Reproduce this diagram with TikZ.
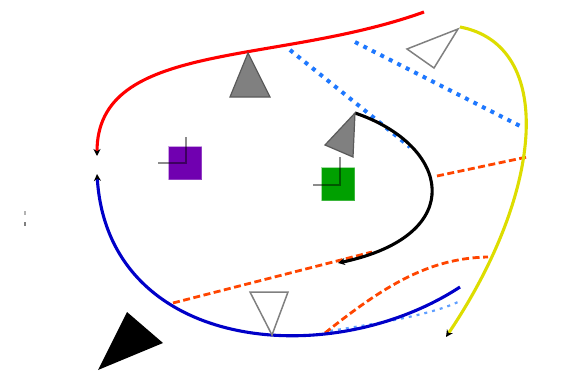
\documentclass[tikz,border=0pt]{standalone}
\usetikzlibrary{arrows.meta}
\definecolor{cred}{RGB}{255,0,0}
\definecolor{cblue}{RGB}{0,0,200}
\definecolor{cyellow}{RGB}{221,221,0}
\definecolor{cdot}{RGB}{30,120,255}
\definecolor{corange}{RGB}{255,69,0}
\definecolor{cpurple}{RGB}{112,0,176}
\definecolor{cgreen}{RGB}{0,160,0}
\definecolor{cgray}{RGB}{128,128,128}
\tikzset{
  curve/.style={line width=3.1pt},
  tip/.style={-{Stealth[black,length=7pt,width=7pt]}},
  dotline/.style={cdot,line width=4pt,dash pattern=on 4pt off 5.5pt},
  dashline/.style={corange,line width=2.8pt,dash pattern=on 7pt off 3.5pt},
  box/.style={draw opacity=0.6,line width=1.2pt,minimum size=33pt,inner sep=0pt},
  axis/.style={black,opacity=0.45,line width=1.6pt},
  filltri/.style={fill=cgray,draw=cgray!70!black,line width=1.2pt,line join=miter},
  opentri/.style={draw=cgray,fill=white,line width=1.5pt,line join=miter}
}
\begin{document}
\begin{tikzpicture}[x=1pt,y=-1pt]
\useasboundingbox (0,0) rectangle (581,372);

% end points of the curves
\coordinate (rA) at (424,12);
\coordinate (rB) at (97,156);
\coordinate (bA) at (97,174);
\coordinate (bB) at (460,287);
\coordinate (yA) at (460,27);
\coordinate (yB) at (446,337);
\coordinate (kA) at (355,113);
\coordinate (kB) at (338,263);

% squares with their small axes
\node[box,fill=cpurple,draw=cpurple!60] (sq1) at (185,163) {};
\node[box,fill=cgreen,draw=cgreen!60] (sq2) at (338,184) {};
\draw[axis] (186,137) -- (186,163) -- (158,163);
\draw[axis] (340,157) -- (340,185) -- (313,185);

% blue dotted links
\draw[dotline] (290,50) -- (410,147);
\draw[dotline] (355,42) -- (524,128);
\draw[cdot!70,line width=2.2pt,dash pattern=on 3pt off 5pt] (330,331) .. controls (380,323) and (430,315) .. (458,302);

% orange dashed links
\draw[dashline] (437,176) -- (527,157);
\draw[dashline] (173,303) -- (372,252);
\draw[dashline] (325,333) .. controls (385,285) and (430,258) .. (488,257);

% main curves
\draw[curve,cred,tip] (rA) .. controls (274,66) and (97,40) .. (rB);
\draw[curve,cblue,tip] (bB) .. controls (330,372) and (108,352) .. (bA);
\draw[curve,cyellow,tip] (yA) .. controls (555,45) and (545,190) .. (yB);
\draw[curve,black,tip] (kA) .. controls (450,145) and (470,235) .. (kB);

% triangles
\draw[filltri] (248,53) -- (270,97) -- (230,97) -- cycle;
\draw[filltri] (355,113) -- (353,157) -- (325,145) -- cycle;
\draw[opentri] (407,49) -- (458,29) -- (434,68) -- cycle;
\draw[opentri] (250,292) -- (288,292) -- (272,335) -- cycle;
\fill[black] (127,312) -- (163,343) -- (98,370) -- cycle;

% small mark on the left
\fill[cgray!60] (24.2,211) rectangle (25.8,215);
\fill[cgray] (24.2,222) rectangle (25.8,226);
\end{tikzpicture}
\end{document}
